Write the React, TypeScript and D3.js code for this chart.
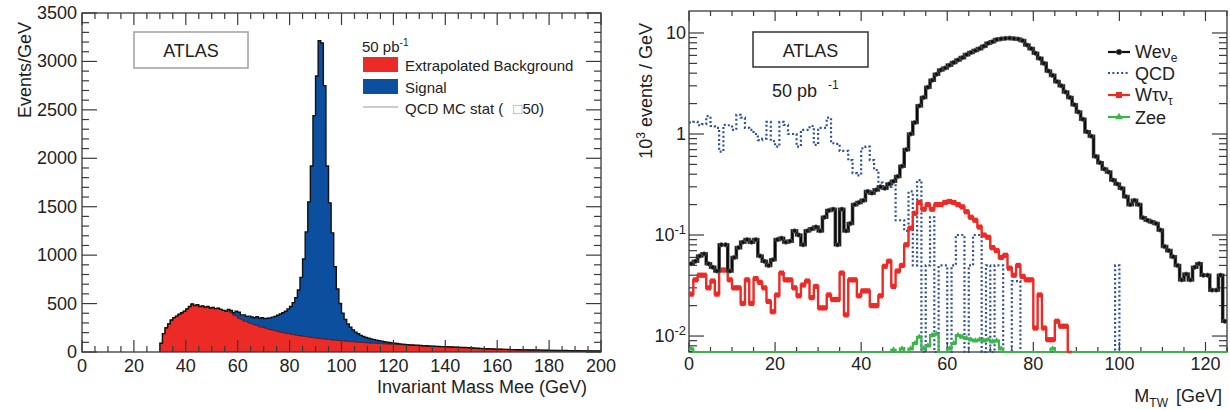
import React from 'react';
import * as d3 from 'd3';

const FONT = '"Liberation Sans", Arial, sans-serif';

// ---------- Left panel: invariant mass Mee, 1 GeV bins ----------
const bgStart = 30; // first bin (GeV) of the extrapolated background
const background = [
  90, 190, 250, 290, 330, 355, 370, 390, 405, 420,
  445, 470, 495, 480, 488, 470, 476, 462, 470, 455,
  460, 448, 452, 440, 430, 418, 425, 405, 380, 372,
  345, 338, 318, 315, 298, 292, 280, 275, 260, 257,
  248, 240, 232, 226, 220, 212, 206, 200, 195, 190,
  185, 180, 175, 170, 166, 162, 158, 154, 150, 147,
  144, 140, 137, 134, 131, 128, 125, 122, 120, 118,
  116, 113, 110, 108, 106, 104, 102, 100, 98, 96,
  94, 92, 90, 89, 87, 86, 84, 83, 82, 80,
  79, 78, 76, 75, 74, 72, 71, 70, 68, 67,
  66, 65, 64, 62, 61, 60, 58, 57, 56, 55,
  54, 53, 52, 50, 49, 48, 47, 46, 45, 44,
  42, 40, 38, 36, 35, 34, 33, 32, 31, 30,
  29, 28, 27, 27, 26, 25, 25, 24, 23, 23,
  22, 22, 21, 21, 20, 20, 19, 19, 18, 18,
  17, 17, 16, 16, 15, 15, 15, 14, 14, 13,
  13, 13, 12, 12, 12, 11, 11, 11, 10, 10,
];
const sigStart = 55; // first bin (GeV) of the signal
const signal = [
  7, 15, 23, 25, 48, 65, 45, 65, 53, 72,
  70, 73, 90, 88, 97, 97, 108, 120, 134, 148,
  168, 186, 205, 225, 255, 285, 330, 385, 470, 604,
  798, 1082, 1396, 1770, 2293, 2706, 3073, 3053, 2616, 1789,
  1412, 1105, 758, 530, 382, 284, 222, 180, 147, 122,
  101, 86, 72, 62, 54, 48, 42, 38, 34, 29,
  26, 22, 19, 16, 14, 11, 9, 8, 6, 5,
  4, 3, 3, 2, 2, 1,
];
const leftXTicks = [0, 20, 40, 60, 80, 100, 120, 140, 160, 180, 200];
const leftYTicks = [0, 500, 1000, 1500, 2000, 2500, 3000, 3500];

// ---------- Right panel: transverse mass, 1 GeV bins, 10^3 events/GeV ----------
const wenu = [
  0.052, 0.055, 0.062, 0.065, 0.052, 0.048, 0.044, 0.08, 0.08, 0.044,
  0.06, 0.075, 0.085, 0.09, 0.085, 0.09, 0.062, 0.055, 0.05, 0.057,
  0.09, 0.093, 0.085, 0.087, 0.11, 0.1, 0.08, 0.11, 0.115, 0.12,
  0.11, 0.15, 0.175, 0.18, 0.08, 0.18, 0.11, 0.13, 0.2, 0.21,
  0.22, 0.27, 0.26, 0.28, 0.3, 0.29, 0.32, 0.34, 0.38, 0.48,
  0.7, 1.0, 1.3, 1.9, 2.3, 2.9, 3.4, 3.9, 4.3, 4.5,
  4.8, 5.1, 5.4, 5.7, 6.1, 6.4, 6.7, 7.0, 7.4, 7.9,
  8.2, 8.6, 8.75, 8.85, 8.9, 8.8, 8.7, 8.4, 7.6, 7.0,
  6.3, 5.6, 5.0, 4.2, 3.8, 3.3, 3.0, 2.6, 2.3, 1.95,
  1.65, 1.4, 1.05, 0.95, 0.6, 0.52, 0.45, 0.42, 0.35, 0.32,
  0.29, 0.24, 0.2, 0.22, 0.2, 0.148, 0.14, 0.135, 0.13, 0.112,
  0.077, 0.07, 0.061, 0.05, 0.036, 0.041, 0.036, 0.048, 0.052, 0.04,
  0.04, 0.0285, 0.0285, 0.04, 0.014,
];
const qcd = [
  1.3, 1.32, 1.22, 1.25, 1.5, 1.2, 1.15, 0.67, 1.23, 1.22,
  1.1, 1.55, 1.45, 1.15, 1.1, 1.0, 0.87, 0.9, 1.32, 0.85,
  0.75, 1.32, 1.23, 1.0, 1.0, 0.75, 1.1, 1.1, 1.2, 0.78,
  1.15, 1.15, 1.45, 0.81, 0.8, 0.68, 0.68, 0.55, 0.41, 0.39,
  0.72, 0.75, 0.55, 0.44, 0.33, 0.3, 0.3, 0.32, 0.14, 0.14,
  0.11, 0.27, 0.05, 0.35, 0, 0.05, 0.15, 0, 0.05, 0.05,
  0, 0.05, 0.1, 0.1, 0, 0.05, 0.1, 0.1, 0, 0.05,
  0, 0.05, 0.05, 0, 0, 0.035, 0.035, 0, 0, 0,
  0, 0, 0, 0, 0, 0, 0, 0, 0, 0,
  0, 0, 0, 0, 0, 0, 0, 0, 0, 0.05,
  0,
];
const wtaunu = [
  0.026, 0.036, 0.04, 0.04, 0.03, 0.035, 0.026, 0.045, 0.045, 0.036,
  0.03, 0.03, 0.021, 0.036, 0.021, 0.037, 0.034, 0.03, 0.022, 0.0174,
  0.0255, 0.042, 0.036, 0.036, 0.03, 0.025, 0.032, 0.035, 0.024, 0.031,
  0.019, 0.019, 0.0255, 0.023, 0.023, 0.042, 0.0162, 0.036, 0.036, 0.025,
  0.028, 0.028, 0.02, 0.02, 0.025, 0.049, 0.055, 0.031, 0.044, 0.05,
  0.08, 0.117, 0.164, 0.21, 0.18, 0.2, 0.18, 0.2, 0.2, 0.21,
  0.215, 0.21, 0.2, 0.19, 0.17, 0.15, 0.14, 0.12, 0.1, 0.095,
  0.075, 0.07, 0.06, 0.063, 0.047, 0.04, 0.05, 0.039, 0.036, 0.036,
  0.012, 0.0255, 0.012, 0.0092, 0.0092, 0.014, 0.0125, 0.0125, 0,
];
const zee = [
  0.0075, 0, 0, 0, 0, 0, 0, 0, 0, 0,
  0, 0, 0, 0, 0, 0, 0, 0, 0, 0,
  0, 0, 0, 0, 0, 0, 0, 0, 0, 0,
  0, 0, 0, 0, 0, 0, 0, 0, 0, 0,
  0, 0, 0, 0, 0, 0, 0, 0.0073, 0, 0.0075,
  0, 0.0075, 0.0085, 0.0098, 0.0075, 0.008, 0.0102, 0.0105, 0, 0,
  0.0075, 0.0085, 0.0102, 0.0098, 0.0095, 0.0092, 0.009, 0.0092, 0.009, 0.0092,
  0.0088, 0.009, 0.0075, 0, 0, 0, 0, 0, 0, 0,
  0, 0, 0, 0, 0.0075, 0, 0, 0, 0, 0,
  0, 0, 0, 0, 0, 0, 0, 0, 0, 0,
  0, 0, 0, 0, 0, 0, 0, 0, 0, 0,
  0, 0, 0, 0, 0, 0, 0, 0, 0, 0,
  0, 0, 0, 0, 0,
];
const rightXTicks = [0, 20, 40, 60, 80, 100, 120];
const rightYTicks = [0.01, 0.1, 1, 10];
const rightYLabels: [string, string][] = [['10', '-2'], ['10', '-1'], ['1', ''], ['10', '']];

const RED = '#ec2a26';
const BLUE = '#0c4f9f';
const AX = '#3a3a3a';
const TXT = '#222';
const QCDC = '#2d4f9c';
const GREEN = '#3bb54a';

type P = [number, number];
const stepPts = (start: number, vals: number[]): P[] => {
  const pts: P[] = vals.map((v, i) => [start + i, v]);
  pts.push([start + vals.length, vals[vals.length - 1]]);
  return pts;
};

export default function App() {
  // ----- left scales -----
  const lx = d3.scaleLinear().domain([0, 200]).range([82, 601]);
  const ly = d3.scaleLinear().domain([0, 3500]).range([352, 13]);
  const redPath = d3.area<P>().x(d => lx(d[0])).y0(ly(0)).y1(d => ly(d[1])).curve(d3.curveStepAfter)(stepPts(bgStart, background)) || '';
  const sigPts = signal.map((s, j) => {
    const bin = sigStart + j;
    const base = background[bin - bgStart];
    return [bin, base, base + s] as [number, number, number];
  });
  sigPts.push([sigStart + signal.length, sigPts[sigPts.length - 1][1], sigPts[sigPts.length - 1][2]]);
  const bluePath = d3.area<[number, number, number]>().x(d => lx(d[0])).y0(d => ly(d[1])).y1(d => ly(d[2])).curve(d3.curveStepAfter)(sigPts) || '';
  const totals = background.map((b, i) => {
    const j = bgStart + i - sigStart;
    return b + (j >= 0 && j < signal.length ? signal[j] : 0);
  });
  const lLine = d3.line<P>().x(d => lx(d[0])).y(d => ly(d[1])).curve(d3.curveStepAfter);
  const totalPath = lLine([[bgStart, 0] as P, ...stepPts(bgStart, totals)]) || '';
  const redTopPath = lLine(stepPts(bgStart, background)) || '';

  // ----- right scales -----
  const yMin = 0.00695;
  const rx = d3.scaleLinear().domain([0, 125]).range([689, 1227]);
  const ry = d3.scaleLog().domain([yMin, 16.5]).range([352, 11]).clamp(true);
  const yv = (v: number) => ry(Math.max(v, yMin));
  const rLine = d3.line<P>().x(d => rx(d[0])).y(d => yv(d[1])).curve(d3.curveStepAfter);

  const lxMinor = d3.range(0, 201, 5);
  const lyMinor = d3.range(0, 3501, 100);
  const rxMinor = d3.range(0, 126, 5);
  const ryMinor: number[] = [];
  [-3, -2, -1, 0, 1].forEach(e => {
    for (let k = 1; k <= 9; k++) {
      const v = k * Math.pow(10, e);
      if (v >= yMin && v <= 16.5) ryMinor.push(v);
    }
  });

  const L = { x0: 82, x1: 601, y0: 13, y1: 352 };
  const R = { x0: 689, x1: 1227, y0: 11, y1: 352 };

  return (
    <svg width={1230} height={410} style={{ position: 'absolute', left: 0, top: 0, display: 'block', background: '#fff' }} fontFamily={FONT}>
      <defs>
        <clipPath id="rclip"><rect x={R.x0} y={R.y0} width={R.x1 - R.x0} height={R.y1 - R.y0 + 2} /></clipPath>
      </defs>

      {/* ================= LEFT PANEL ================= */}
      <path d={redPath} fill={RED} />
      <path d={bluePath} fill={BLUE} />
      <path d={redTopPath} fill="none" stroke="#5a1010" strokeWidth={0.9} />
      <path d={totalPath} fill="none" stroke="#111" strokeWidth={1.4} />

      {/* ticks */}
      {lxMinor.map(t => {
        const major = t % 20 === 0;
        const len = major ? 12 : 6;
        return (
          <g key={'lxm' + t} stroke={AX} strokeWidth={1.2}>
            <line x1={lx(t)} x2={lx(t)} y1={L.y1} y2={L.y1 - len} />
            <line x1={lx(t)} x2={lx(t)} y1={L.y0} y2={L.y0 + len} />
          </g>
        );
      })}
      {lyMinor.map(t => {
        const major = t % 500 === 0;
        const len = major ? 15 : 7;
        return (
          <g key={'lym' + t} stroke={AX} strokeWidth={1.2}>
            <line x1={L.x0} x2={L.x0 + len} y1={ly(t)} y2={ly(t)} />
            <line x1={L.x1} x2={L.x1 - len} y1={ly(t)} y2={ly(t)} />
          </g>
        );
      })}
      <rect x={L.x0} y={L.y0} width={L.x1 - L.x0} height={L.y1 - L.y0} fill="none" stroke={AX} strokeWidth={1.3} />
      {leftXTicks.map(t => (
        <text key={'lxl' + t} x={lx(t)} y={372} textAnchor="middle" fontSize={18} fill={TXT}>{t}</text>
      ))}
      {leftYTicks.map(t => (
        <text key={'lyl' + t} x={77} y={ly(t) + 6} textAnchor="end" fontSize={18} fill={TXT}>{t}</text>
      ))}
      <text x={587} y={393} textAnchor="end" fontSize={18} fill={TXT}>Invariant Mass Mee (GeV)</text>
      <text transform="translate(31,22) rotate(-90)" textAnchor="end" fontSize={18} fill={TXT}>Events/GeV</text>

      {/* ATLAS box */}
      <rect x={134} y={32} width={114} height={36} fill="#fff" stroke="#a0a0a0" strokeWidth={1.5} />
      <text x={191} y={57} textAnchor="middle" fontSize={18} fill={TXT}>ATLAS</text>

      {/* legend */}
      <text x={362} y={52} fontSize={15} fill={TXT}>50 pb<tspan dy={-6} fontSize={10}>-1</tspan></text>
      <rect x={363} y={57} width={35} height={15} fill={RED} />
      <text x={405} y={71} fontSize={15} fill={TXT}>Extrapolated Background</text>
      <rect x={363} y={79} width={35} height={15} fill={BLUE} />
      <text x={405} y={93} fontSize={15} fill={TXT}>Signal</text>
      <line x1={363} x2={398} y1={107} y2={107} stroke="#999" strokeWidth={1} />
      <text x={405} y={114} fontSize={15} fill={TXT}>QCD MC stat (<tspan dx={10} fill="#999">□</tspan>50)</text>

      {/* ================= RIGHT PANEL ================= */}
      {rxMinor.map(t => {
        const major = t % 20 === 0;
        const len = major ? 10 : 5;
        return (
          <g key={'rxm' + t} stroke={AX} strokeWidth={1.2}>
            <line x1={rx(t)} x2={rx(t)} y1={R.y1} y2={R.y1 - len} />
            <line x1={rx(t)} x2={rx(t)} y1={R.y0} y2={R.y0 + len} />
          </g>
        );
      })}
      {ryMinor.map(t => {
        const major = Math.abs(Math.log10(t) - Math.round(Math.log10(t))) < 1e-9;
        const len = major ? 15 : 8;
        return (
          <g key={'rym' + t} stroke={AX} strokeWidth={1.2}>
            <line x1={R.x0} x2={R.x0 + len} y1={ry(t)} y2={ry(t)} />
            <line x1={R.x1} x2={R.x1 - len} y1={ry(t)} y2={ry(t)} />
          </g>
        );
      })}
      <rect x={R.x0} y={R.y0} width={R.x1 - R.x0} height={R.y1 - R.y0} fill="none" stroke={AX} strokeWidth={1.3} />

      <g clipPath="url(#rclip)">
        <path d={rLine(stepPts(0, qcd)) || ''} fill="none" stroke={QCDC} strokeWidth={2.2} strokeDasharray="2 2.4" />
        <path d={rLine(stepPts(0, zee)) || ''} fill="none" stroke={GREEN} strokeWidth={2.2} />
        {zee.map((v, i) => v > 0 ? (
          <path key={'zm' + i} d={d3.symbol(d3.symbolTriangle, 16)() || ''} transform={`translate(${rx(i + 0.5)},${yv(v)})`} fill={GREEN} />
        ) : null)}
        <path d={rLine(stepPts(0, wtaunu)) || ''} fill="none" stroke={RED} strokeWidth={2.4} />
        {wtaunu.map((v, i) => v > 0 ? (
          <rect key={'tm' + i} x={rx(i + 0.5) - 2.6} y={yv(v) - 2.6} width={5.2} height={5.2} fill={RED} />
        ) : null)}
        <path d={rLine(stepPts(0, wenu)) || ''} fill="none" stroke="#555" strokeWidth={3.6} />
        <path d={rLine(stepPts(0, wenu)) || ''} fill="none" stroke="#0a0a0a" strokeWidth={2.2} />
        {wenu.map((v, i) => (
          <circle key={'wm' + i} cx={rx(i + 0.5)} cy={yv(v)} r={2.2} fill="#111" stroke="#666" strokeWidth={0.7} />
        ))}
      </g>

      {rightXTicks.map(t => (
        <text key={'rxl' + t} x={rx(t)} y={370} textAnchor="middle" fontSize={18} fill={TXT}>{t}</text>
      ))}
      {rightYTicks.map((t, i) => (
        <text key={'ryl' + t} x={686} y={ry(t) + 6} textAnchor="end" fontSize={18} fill={TXT}>
          {rightYLabels[i][0]}
          {rightYLabels[i][1] ? <tspan dy={-7} fontSize={13}>{rightYLabels[i][1]}</tspan> : null}
        </text>
      ))}
      <text x={1222} y={402} textAnchor="end" fontSize={18} fill={TXT}>
        M<tspan dy={5} fontSize={12}>TW</tspan><tspan dy={-5} dx={8}>[GeV]</tspan>
      </text>
      <text transform="translate(652,23) rotate(-90)" textAnchor="end" fontSize={18} fill={TXT}>
        10<tspan dy={-7} fontSize={12}>3</tspan><tspan dy={7}> events / GeV</tspan>
      </text>

      {/* ATLAS box */}
      <rect x={753} y={32} width={115} height={35} fill="#fff" stroke="#333" strokeWidth={1.5} />
      <text x={810.5} y={57} textAnchor="middle" fontSize={18} fill={TXT}>ATLAS</text>
      <text x={772} y={97} fontSize={18} fill={TXT}>50 pb</text>
      <text x={828} y={89} fontSize={12} fill={TXT}>-1</text>

      {/* legend */}
      <line x1={1108} x2={1130} y1={52} y2={52} stroke="#111" strokeWidth={2.2} />
      <circle cx={1119} cy={52} r={2.8} fill="#111" stroke="#666" strokeWidth={0.7} />
      <text x={1135} y={58} fontSize={18} fill={TXT}>Weν<tspan dy={4} fontSize={12}>e</tspan></text>
      <line x1={1108} x2={1130} y1={73} y2={73} stroke={QCDC} strokeWidth={2.2} strokeDasharray="2 2.4" />
      <text x={1135} y={80} fontSize={18} fill={TXT}>QCD</text>
      <line x1={1108} x2={1130} y1={95} y2={95} stroke={RED} strokeWidth={2.2} />
      <rect x={1116} y={92} width={6} height={6} fill={RED} />
      <text x={1135} y={101} fontSize={18} fill={TXT}>Wτν<tspan dy={4} fontSize={12}>τ</tspan></text>
      <line x1={1108} x2={1130} y1={117} y2={117} stroke={GREEN} strokeWidth={2.2} />
      <path d={d3.symbol(d3.symbolTriangle, 24)() || ''} transform="translate(1119,117)" fill={GREEN} />
      <text x={1135} y={124} fontSize={18} fill={TXT}>Zee</text>
    </svg>
  );
}
